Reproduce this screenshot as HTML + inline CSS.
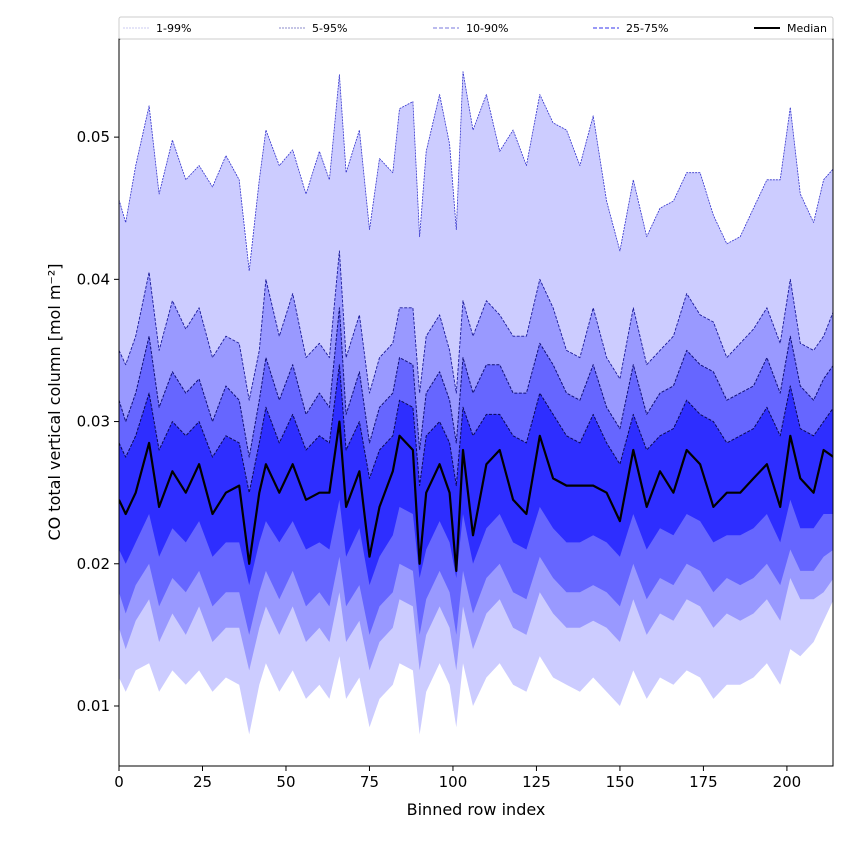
<!DOCTYPE html>
<html><head><meta charset="utf-8"><style>
body{margin:0;background:#fff;}
svg{display:block;font-family:"DejaVu Sans","Liberation Sans",sans-serif;}
</style></head><body>
<svg id="chart" width="850" height="850"></svg>
<script>
const idx=[0,2,5,9,12,16,20,24,28,32,36,39,42,44,48,52,56,60,63,66,68,72,75,78,82,84,88,90,92,96,99,101,103,106,110,114,118,122,126,130,134,138,142,146,150,154,158,162,166,170,174,178,182,186,190,194,198,201,204,208,211,214];
const p99=[0.0456,0.0440,0.0480,0.0522,0.0460,0.0498,0.0470,0.0480,0.0465,0.0487,0.0470,0.0406,0.0470,0.0505,0.0480,0.0491,0.0460,0.0490,0.0470,0.0544,0.0475,0.0505,0.0435,0.0485,0.0475,0.0520,0.0525,0.0430,0.0490,0.0530,0.0495,0.0435,0.0546,0.0505,0.0530,0.0490,0.0505,0.0480,0.0530,0.0510,0.0505,0.0480,0.0515,0.0455,0.0420,0.0470,0.0430,0.0450,0.0455,0.0475,0.0475,0.0445,0.0425,0.0430,0.0450,0.0470,0.0470,0.0521,0.0460,0.0440,0.0470,0.0478];
const p95=[0.0350,0.0340,0.0360,0.0405,0.0350,0.0385,0.0365,0.0380,0.0345,0.0360,0.0355,0.0315,0.0350,0.0400,0.0360,0.0390,0.0345,0.0355,0.0345,0.0420,0.0345,0.0375,0.0320,0.0345,0.0355,0.0380,0.0380,0.0320,0.0360,0.0375,0.0350,0.0320,0.0385,0.0360,0.0385,0.0375,0.0360,0.0360,0.0400,0.0380,0.0350,0.0345,0.0380,0.0345,0.0330,0.0380,0.0340,0.0350,0.0360,0.0390,0.0375,0.0370,0.0345,0.0355,0.0365,0.0380,0.0355,0.0400,0.0355,0.0350,0.0360,0.0378];
const p90=[0.0315,0.0300,0.0320,0.0360,0.0310,0.0335,0.0320,0.0330,0.0300,0.0325,0.0315,0.0275,0.0315,0.0345,0.0315,0.0340,0.0305,0.0320,0.0310,0.0380,0.0305,0.0335,0.0285,0.0310,0.0320,0.0345,0.0340,0.0280,0.0320,0.0335,0.0315,0.0285,0.0345,0.0320,0.0340,0.0340,0.0320,0.0320,0.0355,0.0340,0.0320,0.0315,0.0340,0.0310,0.0295,0.0340,0.0305,0.0320,0.0325,0.0350,0.0340,0.0335,0.0315,0.0320,0.0325,0.0345,0.0320,0.0360,0.0325,0.0315,0.0330,0.0340];
const p75=[0.0285,0.0275,0.0290,0.0320,0.0280,0.0300,0.0290,0.0300,0.0275,0.0290,0.0285,0.0250,0.0285,0.0310,0.0285,0.0305,0.0280,0.0290,0.0285,0.0340,0.0280,0.0300,0.0260,0.0280,0.0290,0.0315,0.0310,0.0255,0.0290,0.0300,0.0285,0.0255,0.0310,0.0290,0.0305,0.0305,0.0290,0.0285,0.0320,0.0305,0.0290,0.0285,0.0305,0.0285,0.0270,0.0305,0.0280,0.0290,0.0295,0.0315,0.0305,0.0300,0.0285,0.0290,0.0295,0.0310,0.0290,0.0325,0.0295,0.0290,0.0300,0.0310];
const p50=[0.0245,0.0235,0.0250,0.0285,0.0240,0.0265,0.0250,0.0270,0.0235,0.0250,0.0255,0.0200,0.0250,0.0270,0.0250,0.0270,0.0245,0.0250,0.0250,0.0300,0.0240,0.0265,0.0205,0.0240,0.0265,0.0290,0.0280,0.0200,0.0250,0.0270,0.0250,0.0195,0.0280,0.0220,0.0270,0.0280,0.0245,0.0235,0.0290,0.0260,0.0255,0.0255,0.0255,0.0250,0.0230,0.0280,0.0240,0.0265,0.0250,0.0280,0.0270,0.0240,0.0250,0.0250,0.0260,0.0270,0.0240,0.0290,0.0260,0.0250,0.0280,0.0275];
const p25=[0.0210,0.0200,0.0215,0.0235,0.0205,0.0225,0.0215,0.0230,0.0205,0.0215,0.0215,0.0185,0.0215,0.0230,0.0215,0.0230,0.0210,0.0215,0.0210,0.0245,0.0205,0.0225,0.0185,0.0205,0.0220,0.0240,0.0235,0.0190,0.0210,0.0230,0.0215,0.0190,0.0235,0.0200,0.0225,0.0235,0.0215,0.0210,0.0240,0.0225,0.0215,0.0215,0.0220,0.0215,0.0205,0.0235,0.0210,0.0225,0.0220,0.0235,0.0230,0.0215,0.0220,0.0220,0.0225,0.0235,0.0215,0.0245,0.0225,0.0225,0.0235,0.0235];
const p10=[0.0180,0.0165,0.0185,0.0200,0.0170,0.0190,0.0180,0.0195,0.0170,0.0180,0.0180,0.0150,0.0180,0.0195,0.0175,0.0195,0.0170,0.0180,0.0170,0.0205,0.0170,0.0185,0.0150,0.0170,0.0180,0.0200,0.0195,0.0150,0.0175,0.0195,0.0180,0.0150,0.0195,0.0165,0.0190,0.0200,0.0180,0.0175,0.0205,0.0190,0.0180,0.0180,0.0185,0.0180,0.0170,0.0200,0.0175,0.0190,0.0185,0.0200,0.0195,0.0180,0.0190,0.0185,0.0190,0.0200,0.0185,0.0210,0.0195,0.0195,0.0205,0.0210];
const p5=[0.0155,0.0140,0.0160,0.0175,0.0145,0.0165,0.0150,0.0170,0.0145,0.0155,0.0155,0.0125,0.0155,0.0170,0.0150,0.0170,0.0145,0.0155,0.0145,0.0180,0.0145,0.0160,0.0125,0.0145,0.0155,0.0175,0.0170,0.0125,0.0150,0.0170,0.0155,0.0125,0.0170,0.0140,0.0165,0.0175,0.0155,0.0150,0.0180,0.0165,0.0155,0.0155,0.0160,0.0155,0.0145,0.0175,0.0150,0.0165,0.0160,0.0175,0.0170,0.0155,0.0165,0.0160,0.0165,0.0175,0.0160,0.0190,0.0175,0.0175,0.0180,0.0190];
const p1=[0.0120,0.0110,0.0125,0.0130,0.0110,0.0125,0.0115,0.0125,0.0110,0.0120,0.0115,0.0080,0.0115,0.0130,0.0110,0.0125,0.0105,0.0115,0.0105,0.0135,0.0105,0.0120,0.0085,0.0105,0.0115,0.0130,0.0125,0.0080,0.0110,0.0130,0.0115,0.0085,0.0130,0.0100,0.0120,0.0130,0.0115,0.0110,0.0135,0.0120,0.0115,0.0110,0.0120,0.0110,0.0100,0.0125,0.0105,0.0120,0.0115,0.0125,0.0120,0.0105,0.0115,0.0115,0.0120,0.0130,0.0115,0.0140,0.0135,0.0145,0.0160,0.0175];
const xTicks=[0,25,50,75,100,125,150,175,200];
const yTicks=[0.01,0.02,0.03,0.04,0.05];
const legendLabels=["1-99%","5-95%","10-90%","25-75%","Median"];

const NS="http://www.w3.org/2000/svg";
const svg=document.getElementById('chart');
const L=119,R=833,T=39,B=766,XMIN=0,XMAX=213.8,YMIN=0.00578,YMAX=0.0569;
const sx=v=>L+(v-XMIN)/(XMAX-XMIN)*(R-L);
const sy=v=>B-(v-YMIN)/(YMAX-YMIN)*(B-T);
function mk(tag,attrs,parent){const e=document.createElementNS(NS,tag);for(const k in attrs)e.setAttribute(k,attrs[k]);(parent||svg).appendChild(e);return e;}
const clip=mk('clipPath',{id:'pc'});mk('rect',{x:L,y:T,width:R-L,height:B-T},clip);
const g=mk('g',{'clip-path':'url(#pc)'});
function pts(a){return idx.map((x,i)=>sx(x).toFixed(1)+','+sy(a[i]).toFixed(1));}
function band(lo,hi,fill){
  const p=mk('polygon',{points:pts(hi).concat(pts(lo).reverse()).join(' '),fill:fill,stroke:'none'},g);
  
  return p;
}
const b1=band(p1,p99,'#ccccff');

const b2=band(p5,p95,'#9999ff');

const b3=band(p10,p90,'#6666ff');

const b4=band(p25,p75,'#2e2eff');

function line(a,stroke,w,dash,name){
  const e=mk('polyline',{points:pts(a).join(' '),fill:'none',stroke:stroke,'stroke-width':w,'stroke-dasharray':dash,'stroke-linejoin':'round'},g);
  
  
}
line(p99,'#3333cc',0.8,'2,1','line-p99');
line(p95,'#1a1a99',0.9,'3,1.5','line-p95');
line(p90,'#111177',1,'3,1.5','line-p90');
line(p75,'#0a0a55',1,'3,1.5','line-p75');
line(p50,'#000',2.2,'','line-median');
const fr=mk('rect',{x:L,y:T,width:R-L,height:B-T,fill:'none',stroke:'#000','stroke-width':1});


xTicks.forEach(t=>{
  const x=sx(t);
  mk('line',{x1:x,x2:x,y1:B,y2:B+5,stroke:'#000'});
  const tx=mk('text',{x:x,y:B+21,'text-anchor':'middle','font-size':15});tx.textContent=t;
  
  
});
yTicks.forEach(t=>{
  const y=sy(t);
  mk('line',{x1:L-5,x2:L,y1:y,y2:y,stroke:'#000'});
  const tx=mk('text',{x:L-9,y:y+5,'text-anchor':'end','font-size':15});tx.textContent=t.toFixed(2);
  
  
});
const xl=mk('text',{x:(L+R)/2,y:815,'text-anchor':'middle','font-size':16});xl.textContent='Binned row index';


const yl=mk('text',{x:0,y:0,'text-anchor':'middle','font-size':16,transform:'translate(60,402) rotate(-90)'});yl.textContent='CO total vertical column [mol m⁻²]';


const lg=mk('g',{});


mk('rect',{x:119,y:17,width:714,height:22,fill:'#fff',stroke:'#ccc',rx:2},lg);
const lx=[123,279,433,593,754];
const lstyle=[['#bbbbee',0.8,'2,1'],['#6666bb',0.8,'2,1'],['#7777dd',1,'4,2'],['#3333ee',1,'4,2'],['#000',2,'']];
legendLabels.forEach((s,i)=>{
  const e=mk('g',{},lg);
  
  
  mk('line',{x1:lx[i],x2:lx[i]+26,y1:28,y2:28,stroke:lstyle[i][0],'stroke-width':lstyle[i][1],'stroke-dasharray':lstyle[i][2]},e);
  const t=mk('text',{x:lx[i]+33,y:32,'font-size':11},e);t.textContent=s;
});
</script>
</body></html>
